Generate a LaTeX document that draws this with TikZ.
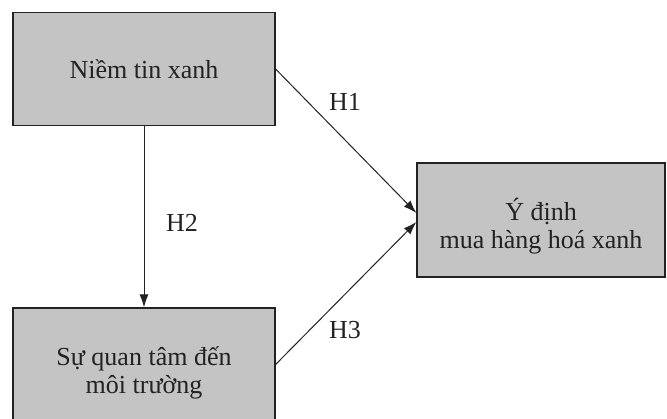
\documentclass[tikz,border=0pt]{standalone}
\usepackage{fontspec}
\setmainfont{Liberation Serif}
\usepackage{tikz}
\usetikzlibrary{positioning,arrows.meta}
\definecolor{boxgray}{HTML}{C4C4C4}
\definecolor{inkgray}{HTML}{222222}
\tikzstyle{factor}=[rectangle, draw=inkgray, line width=1.2pt, fill=boxgray,
text centered, text=inkgray, align=center, font=\fontsize{26}{28}\selectfont]
\tikzstyle{link}=[draw=inkgray, line width=1pt, -{Latex[length=13pt,width=9pt]}]
\tikzstyle{hyp}=[text=inkgray, font=\fontsize{26}{28}\selectfont]

\begin{document}
\begin{tikzpicture}[x=1pt,y=-1pt]
            \useasboundingbox (0,0) rectangle (667,419);
            \node (1)[factor, minimum width=262pt, minimum height=113pt] at (144,69) {Niềm tin xanh};
            \node (2)[factor, minimum width=262pt, minimum height=113pt] at (144,364.5)
                {\rule{0pt}{35pt}Sự quan tâm đến\\môi trường};
            \node (3)[factor, minimum width=248pt, minimum height=114pt] at (541,220)
                {\rule{0pt}{34pt}Ý định\\mua hàng hoá xanh};
            % hypotheses
            \draw[link] (1) -- (2);
            \draw[link] (1.east) -- ([yshift=7pt]3.west);
            \draw[link] (2.east) -- ([yshift=-2pt]3.west);
            \node (h1)[hyp] at (345,102) {H1};
            \node (h2)[hyp] at (182,223) {H2};
            \node (h3)[hyp] at (345,330) {H3};
        \end{tikzpicture}
\end{document}
